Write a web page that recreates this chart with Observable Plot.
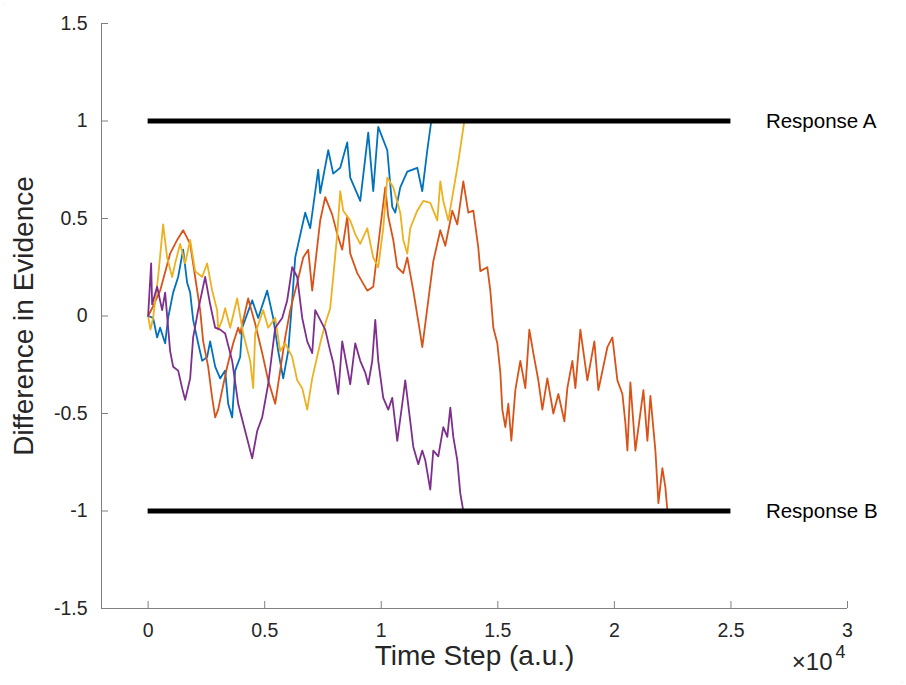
<!DOCTYPE html>
<html><head><meta charset="utf-8">
<script src="https://cdn.jsdelivr.net/npm/d3@7"></script>
<script src="https://cdn.jsdelivr.net/npm/@observablehq/plot@0.6"></script>
<style>body{margin:0;background:#fff;}</style>
</head><body><div id="chart"></div>
<script>
// Random-walk evidence traces (time step, difference in evidence)
const blueT = [0,215,386,515,730,858,1073,1288,1502,1674,1803,1931,2146,2318,2532,2661,2876,3090,3305,3434,3605,3734,3949,4035,4464,4721,5107,5365,5580,5794,6009,6180,6309,6738,6953,7296,7382,7726,7940,8240,8541,8670,9099,9442,9657,9871,10258,10472,10601,10816,11116,11545,11760,11975,12146];
const blueY = [0,-0.01,-0.11,-0.06,-0.14,-0.01,0.12,0.20,0.34,0.17,0.12,-0.02,-0.14,-0.23,-0.21,-0.13,-0.26,-0.32,-0.28,-0.45,-0.52,-0.28,-0.21,-0.06,0.08,-0.01,0.13,-0.01,-0.18,-0.32,-0.18,0.08,0.30,0.53,0.45,0.75,0.63,0.85,0.73,0.76,0.89,0.71,0.59,0.94,0.64,0.97,0.85,0.56,0.53,0.66,0.74,0.76,0.64,0.85,1.0];

const orangeT = [0,215,515,944,1245,1502,1803,2017,2232,2361,2575,2747,2876,3004,3176,3391,3648,3863,3949,4292,4592,4893,5150,5451,5665,5880,6095,6395,6653,6867,7039,7382,7597,7897,8112,8326,8541,8670,8970,9399,9657,9957,10172,10301,10515,10687,10945,11116,11374,11674,11760,11975,12232,12533,12747,13048,13262,13520,13735,13949,14164,14250,14550,14679,14808,14979,15108,15194,15322,15451,15580,15752,15966,16181,16353,16524,16739,16911,17125,17383,17597,17855,17983,18198,18327,18541,18842,19142,19314,19700,19915,20129,20344,20473,20559,20687,20902,21245,21417,21545,21760,21889,22060,22189,22275];
const orangeY = [0,0.05,0.13,0.32,0.39,0.44,0.37,0.20,0.03,-0.13,-0.26,-0.42,-0.52,-0.48,-0.38,-0.26,-0.14,-0.06,-0.09,0.09,-0.04,-0.19,-0.33,-0.45,-0.28,-0.11,0.03,0.17,0.30,0.34,0.13,0.49,0.61,0.52,0.42,0.34,0.51,0.32,0.22,0.13,0.15,0.45,0.66,0.51,0.39,0.25,0.22,0.30,0.13,-0.09,-0.16,0.04,0.28,0.44,0.36,0.54,0.47,0.69,0.53,0.54,0.35,0.23,0.25,0.13,-0.06,-0.14,-0.29,-0.48,-0.57,-0.45,-0.64,-0.38,-0.23,-0.37,-0.07,-0.19,-0.33,-0.48,-0.32,-0.50,-0.40,-0.54,-0.37,-0.23,-0.37,-0.07,-0.33,-0.13,-0.38,-0.16,-0.11,-0.33,-0.40,-0.55,-0.69,-0.34,-0.69,-0.38,-0.64,-0.41,-0.69,-0.96,-0.78,-0.88,-1.0];

const yellowT = [0,100,215,429,644,815,1030,1159,1373,1588,1803,2017,2318,2532,2747,2961,3004,3176,3305,3519,3820,4077,4378,4507,4592,4936,5150,5451,5665,5880,6180,6395,6610,6824,7039,7382,7597,7811,7940,8112,8240,8369,8670,8884,9099,9399,9657,9871,10086,10258,10515,10816,10945,11116,11245,11545,11803,12103,12404,12533,12661,12876,13091,13262,13391,13563];
const yellowY = [0,-0.07,-0.01,0.20,0.47,0.30,0.20,0.27,0.37,0.27,0.39,0.23,0.20,0.27,0.13,0.03,-0.07,-0.02,0.04,-0.06,0.09,-0.09,-0.23,-0.37,-0.09,0.03,-0.06,-0.01,-0.18,-0.14,-0.21,-0.33,-0.37,-0.48,-0.32,-0.14,-0.04,0.04,0.20,0.42,0.64,0.54,0.49,0.42,0.37,0.45,0.30,0.25,0.45,0.71,0.66,0.53,0.39,0.32,0.45,0.54,0.59,0.58,0.49,0.69,0.59,0.49,0.64,0.76,0.86,1.0];

const purpleT = [0,129,172,386,601,730,944,1073,1288,1459,1588,1803,1931,2146,2446,2661,2876,3090,3305,3605,3863,4163,4464,4678,4893,5150,5451,5751,5966,6180,6395,6610,6824,7039,7168,7382,7597,7811,7940,8155,8326,8670,8884,9099,9313,9442,9614,9743,9871,10086,10301,10472,10687,10902,11030,11245,11374,11588,11760,11889,12103,12232,12447,12661,12833,12962,13091,13262,13391,13520];
const purpleY = [0,0.27,0.06,0.15,0.03,0.12,-0.18,-0.26,-0.28,-0.37,-0.43,-0.32,-0.11,0.03,0.20,0.06,-0.06,-0.07,-0.09,-0.23,-0.45,-0.59,-0.73,-0.59,-0.52,-0.35,-0.06,-0.01,0.08,0.25,0.20,-0.01,-0.13,-0.19,0.03,-0.02,-0.07,-0.18,-0.24,-0.40,-0.13,-0.35,-0.14,-0.23,-0.29,-0.35,-0.23,-0.02,-0.23,-0.42,-0.48,-0.42,-0.64,-0.45,-0.33,-0.54,-0.67,-0.76,-0.69,-0.74,-0.89,-0.69,-0.72,-0.57,-0.62,-0.47,-0.62,-0.74,-0.91,-1.0];

// Decision boundaries
const boundaryValues = [1, -1];
const boundaryLabels = ["Response A", "Response B"];
const boundaryStart = 0;
const boundaryEnd = 25000;
const labelX = 26500;

// Axis ticks
const xTicks = [0, 5000, 10000, 15000, 20000, 25000, 30000];
const yTicks = [-1.5, -1, -0.5, 0, 0.5, 1, 1.5];

const colors = ["#0072BD", "#D95319", "#EDB120", "#7E2F8E"];
const walks = [[blueT, blueY], [orangeT, orangeY], [yellowT, yellowY], [purpleT, purpleY]]
  .map(([T, Y]) => T.map((t, i) => ({t, v: Y[i]})));
const boundaries = boundaryValues.map((v, i) => ({v, label: boundaryLabels[i]}));

const font = "'Liberation Sans', Arial, Helvetica, sans-serif";
const ink = "#262626";

const chart = Plot.plot({
  width: 906, height: 685,
  marginLeft: 101, marginRight: 59, marginTop: 23, marginBottom: 77,
  style: {fontFamily: font, background: "#fff", color: ink, overflow: "visible"},
  x: {domain: [-2000, 30000]},
  y: {domain: [-1.5, 1.5]},
  marks: [
    Plot.ruleY([-1.5], {stroke: "#808080", strokeWidth: 1}),
    Plot.ruleX([-2000], {stroke: "#808080", strokeWidth: 1}),
    Plot.axisX(xTicks, {tickSize: -7, stroke: "#808080", tickFormat: () => "", fontSize: 1}),
    Plot.axisY(yTicks, {tickSize: -7, stroke: "#808080", tickFormat: () => "", fontSize: 1}),
    Plot.axisX(xTicks, {tickSize: 0, tickPadding: 15, tickFormat: d => String(d / 1e4), fontSize: 19.5, fill: ink, label: null}),
    Plot.axisY(yTicks, {tickSize: 0, tickPadding: 14, tickFormat: d => String(d), fontSize: 19.5, fill: ink, label: null}),
    ...walks.map((w, i) => Plot.line(w, {x: "t", y: "v", stroke: colors[i], strokeWidth: 1.8})),
    Plot.ruleY(boundaries, {y: "v", x1: boundaryStart, x2: boundaryEnd, stroke: "#000", strokeWidth: 5}),
    Plot.text(boundaries, {x: labelX, y: "v", text: "label", textAnchor: "start", fontSize: 20.5, fill: "#000"}),
    Plot.text(["Time Step (a.u.)"], {frameAnchor: "bottom", textAnchor: "middle", dy: 56, fontSize: 28, fill: ink}),
    Plot.text(["Difference in Evidence"], {frameAnchor: "left", textAnchor: "middle", dx: -77, rotate: -90, fontSize: 28, fill: ink}),
    Plot.text(["×10"], {frameAnchor: "bottom-right", textAnchor: "end", dx: -15, dy: 61, fontSize: 24, fill: ink}),
    Plot.text(["4"], {frameAnchor: "bottom-right", textAnchor: "end", dx: -2, dy: 49, fontSize: 18, fill: ink})
  ]
});
document.getElementById("chart").appendChild(chart);
</script>
</body></html>
